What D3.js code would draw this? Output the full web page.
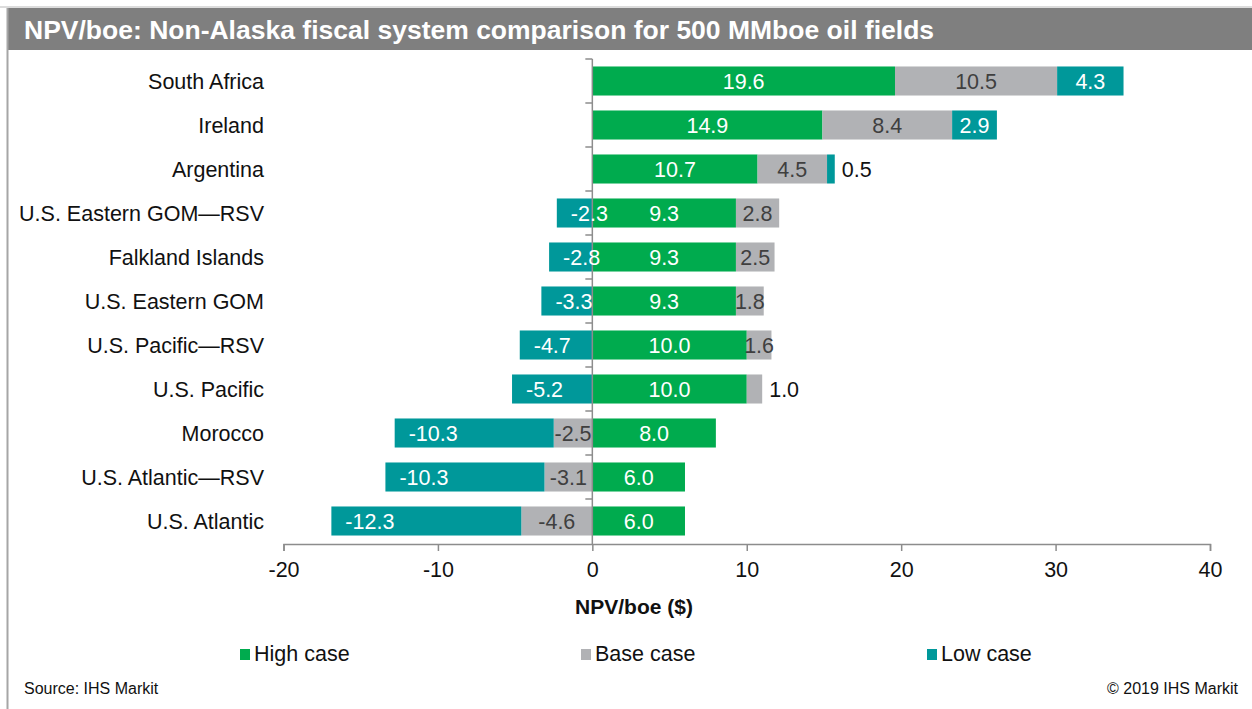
<!DOCTYPE html>
<html>
<head>
<meta charset="utf-8">
<script src="https://cdn.jsdelivr.net/npm/d3@7"></script>
<style>
  html, body { margin: 0; padding: 0; background: #fff; }
  svg { display: block; font-family: Arial, "Liberation Sans", sans-serif; }
</style>
</head>
<body>
<svg id="chart" width="1252" height="709"></svg>
<script>
// Fields, top to bottom
const categories = [
  "South Africa", "Ireland", "Argentina", "U.S. Eastern GOM\u2014RSV",
  "Falkland Islands", "U.S. Eastern GOM", "U.S. Pacific\u2014RSV",
  "U.S. Pacific", "Morocco", "U.S. Atlantic\u2014RSV", "U.S. Atlantic"
];
// NPV/boe ($) for each case
const highCase = [19.6, 14.9, 10.7, 9.3, 9.3, 9.3, 10.0, 10.0, 8.0, 6.0, 6.0];
const baseCase = [10.5, 8.4, 4.5, 2.8, 2.5, 1.8, 1.6, 1.0, -2.5, -3.1, -4.6];
const lowCase  = [4.3, 2.9, 0.5, -2.3, -2.8, -3.3, -4.7, -5.2, -10.3, -10.3, -12.3];
const xTicks = [-20, -10, 0, 10, 20, 30, 40];
const seriesNames = ["High case", "Base case", "Low case"];

const keys = ["high", "base", "low"];
const colors = { high: "#00AB4E", base: "#B1B2B5", low: "#00989A" };
const labelColors = { high: "#ffffff", base: "#3f3f3f", low: "#ffffff" };

const rows = categories.map((c, i) => ({
  name: c, high: highCase[i], base: baseCase[i], low: lowCase[i]
}));

// Plain hyphen for negative numbers
const locale = d3.formatLocale({ decimal: ".", thousands: ",", grouping: [3], currency: ["$", ""], minus: "-" });
const fmt = locale.format(".1f");
const fmtInt = locale.format("d");

const svg = d3.select("#chart");
const W = 1252, H = 709;

// Frame: title band and left rule
svg.append("rect").attr("x", 0).attr("y", 6).attr("width", W).attr("height", 2).attr("fill", "#dcdcdc");
svg.append("rect").attr("x", 7).attr("y", 8).attr("width", W - 7).attr("height", 42).attr("fill", "#7f7f7f");
svg.append("line").attr("x1", 7.5).attr("x2", 7.5).attr("y1", 8).attr("y2", H)
  .attr("stroke", "#a6a6a6").attr("stroke-width", 2);
svg.append("text").attr("x", 24).attr("y", 39)
  .attr("fill", "#ffffff").attr("font-weight", "bold").attr("font-size", 26.5)
  .text("NPV/boe: Non-Alaska fiscal system comparison for 500 MMboe oil fields");

// Scales
const x = d3.scaleLinear().domain([-20, 40]).range([283.5, 1210]);
const y = d3.scaleBand().domain(categories).range([59, 543]).paddingInner(0.34).paddingOuter(0.17);

const stack = d3.stack().keys(keys).offset(d3.stackOffsetDiverging);
const stacked = stack(rows);

// Bars
const g = svg.append("g");
stacked.forEach(layer => {
  g.selectAll(null).data(layer).enter().append("rect")
    .attr("x", d => x(Math.min(d[0], d[1])))
    .attr("width", d => Math.abs(x(d[1]) - x(d[0])))
    .attr("y", d => y(d.data.name))
    .attr("height", y.bandwidth())
    .attr("fill", colors[layer.key]);
});

// Category axis at zero
const zeroX = x(0);
const catAxis = svg.append("g");
catAxis.append("line").attr("x1", zeroX).attr("x2", zeroX).attr("y1", 59).attr("y2", 544)
  .attr("stroke", "#8c8c8c").attr("stroke-width", 1.5);
const step = y.step();
d3.range(categories.length).forEach(i => {
  const yy = 59 + i * step;
  catAxis.append("line").attr("x1", zeroX - 7).attr("x2", zeroX).attr("y1", yy).attr("y2", yy)
    .attr("stroke", "#8c8c8c").attr("stroke-width", 1.5);
});

// Category labels
svg.append("g").selectAll("text").data(categories).enter().append("text")
  .attr("x", 264)
  .attr("y", d => y(d) + y.bandwidth() / 2)
  .attr("dy", "0.35em")
  .attr("text-anchor", "end")
  .attr("font-size", 21.5)
  .attr("fill", "#111")
  .text(d => d);

// Value labels
const lg = svg.append("g").attr("font-size", 21.5);
stacked.forEach(layer => {
  layer.forEach(d => {
    const v = d.data[layer.key];
    const x0 = x(Math.min(d[0], d[1])), x1 = x(Math.max(d[0], d[1]));
    const cy = y(d.data.name) + y.bandwidth() / 2;
    let tx, anchor = "middle", fill = labelColors[layer.key];
    if (x1 - x0 < 20) {
      tx = x1 + 7; anchor = "start"; fill = "#111";
    } else if (layer.key === "low" && v < 0) {
      tx = x0 + 14; anchor = "start";
    } else {
      tx = (x0 + x1) / 2;
    }
    lg.append("text").attr("x", tx).attr("y", cy).attr("dy", "0.35em")
      .attr("text-anchor", anchor).attr("fill", fill).text(fmt(v));
  });
});

// Value axis
const xAxis = svg.append("g").attr("transform", "translate(0,544)")
  .call(d3.axisBottom(x).tickValues(xTicks).tickSize(7).tickFormat(fmtInt));
xAxis.select(".domain").attr("stroke", "#8c8c8c").attr("stroke-width", 1.5);
xAxis.selectAll(".tick line").attr("stroke", "#8c8c8c").attr("stroke-width", 1.5);
xAxis.selectAll(".tick text").attr("font-size", 21.5).attr("fill", "#111")
  .attr("font-family", "Arial, 'Liberation Sans', sans-serif").attr("dy", "0").attr("y", 33);

svg.append("text").attr("x", 634).attr("y", 614).attr("text-anchor", "middle")
  .attr("font-size", 21).attr("font-weight", "bold").attr("fill", "#111")
  .text("NPV/boe ($)");

// Legend
const legendX = [240, 581, 927];
const leg = svg.append("g");
keys.forEach((k, i) => {
  leg.append("rect").attr("x", legendX[i]).attr("y", 649).attr("width", 10).attr("height", 11)
    .attr("fill", colors[k]);
  leg.append("text").attr("x", legendX[i] + 14).attr("y", 661)
    .attr("font-size", 21.5).attr("fill", "#111").text(seriesNames[i]);
});

// Footer
svg.append("text").attr("x", 24).attr("y", 694).attr("font-size", 16).attr("fill", "#111")
  .text("Source: IHS Markit");
svg.append("text").attr("x", 1238).attr("y", 694).attr("text-anchor", "end")
  .attr("font-size", 16).attr("fill", "#111").text("\u00a9 2019 IHS Markit");
</script>
</body>
</html>
